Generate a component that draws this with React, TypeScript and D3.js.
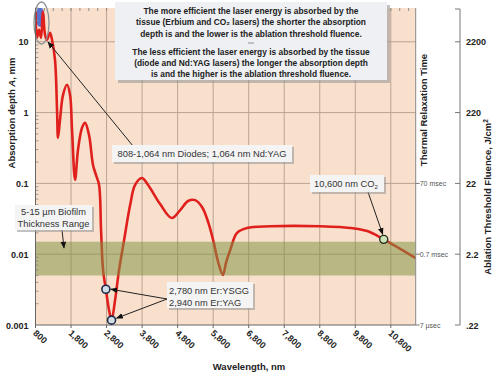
import React from 'react';
import * as d3 from 'd3';

const wavelengths = [800, 842, 899, 955, 1011, 1068, 1124, 1208, 1265, 1349, 1406, 1434, 1490, 1575, 1687, 1772, 1828, 1913, 1997, 2110, 2194, 2307, 2420, 2504, 2589, 2645, 2701, 2780, 2870, 2940, 3039, 3152, 3293, 3462, 3603, 3792, 3969, 4307, 4637, 4873, 5096, 5293, 5490, 5659, 5800, 5941, 6073, 6166, 6279, 6468, 6749, 7404, 8815, 9744, 10138, 10600, 11500];
const depths = [26.6, 11.4, 14.8, 11.4, 26.6, 12.6, 10.7, 13.4, 10.7, 5.56, 1.09, 0.44, 0.79, 1.78, 2.47, 1.78, 0.57, 0.112, 0.30, 0.61, 0.715, 0.48, 0.18, 0.131, 0.095, 0.0219, 0.0060, 0.0032, 0.00162, 0.00117, 0.00224, 0.0060, 0.0158, 0.049, 0.095, 0.119, 0.095, 0.051, 0.0324, 0.042, 0.0564, 0.058, 0.046, 0.0284, 0.0158, 0.0077, 0.0051, 0.0077, 0.0114, 0.0199, 0.0234, 0.0248, 0.0248, 0.0232, 0.0212, 0.0162, 0.0088];

const xTicks = [800, 1800, 2800, 3800, 4800, 5800, 6800, 7800, 8800, 9800, 10800];
const xTickLabels = ['800', '1,800', '2,800', '3,800', '4,800', '5,800', '6,800', '7,800', '8,800', '9,800', '10,800'];
const yTicks = [0.001, 0.01, 0.1, 1, 10];
const yTickLabels = ['0.001', '0.01', '0.1', '1', '10'];
const thermalTicks = [0.001, 0.01, 0.1];
const thermalLabels = ['7 µsec', '0.7 msec', '70 msec'];
const fluenceTicks = [0.001, 0.01, 0.1, 1, 10];
const fluenceLabels = ['.22', '2.2', '22', '220', '2200'];

const erbiumWl = [2780, 2940];
const erbiumDepth = [0.0032, 0.00117];
const co2Wl = [10600];
const co2Depth = [0.0162];
const biofilmRange = [0.005, 0.015];

const topLines1 = [
  'The more efficient the laser energy is absorbed by the',
  'tissue (Erbium and CO\u2082 lasers) the shorter the absorption',
  'depth is and the lower is the ablation threshold fluence.',
];
const topLines2 = [
  'The less efficient the laser energy is absorbed by the tissue',
  '(diode and Nd:YAG lasers) the longer the absorption depth',
  'is and the higher is the ablation threshold fluence.',
];

const W = 498, H = 377;
const L = 35.5, R = 415.7, T = 8, B = 325;

export default function App() {
  const x = d3.scaleLinear().domain([800, 11500]).range([L, R]);
  const y = d3.scaleLog().domain([0.001, 30]).range([B, T]);
  const line = d3.line<number>()
    .x((_, i) => x(wavelengths[i]))
    .y((d) => y(d))
    .curve(d3.curveCatmullRom.alpha(0.5));
  const pathD = line(depths) || '';

  const minor: number[] = [];
  for (let e = -3; e <= 1; e++) {
    for (let k = 2; k <= 9; k++) {
      const v = k * Math.pow(10, e);
      if (v <= 30) minor.push(v);
    }
  }
  const topMinor = d3.range(1050, 11500, 250);

  const font = 'Liberation Sans, Arial, sans-serif';
  const gridC = '#b9a494';

  return (
    <svg width={W} height={H} style={{ position: 'absolute', left: 0, top: 0, background: '#fff' }} fontFamily={font}>
      <defs>
        <clipPath id="plot"><rect x={L} y={T} width={R - L} height={B - T} /></clipPath>
        <marker id="ah" viewBox="0 0 10 10" refX="9" refY="5" markerWidth="7" markerHeight="7" orient="auto-start-reverse" markerUnits="userSpaceOnUse">
          <path d="M0,1 L10,5 L0,9 Z" fill="#111" />
        </marker>
      </defs>
      <rect x={L} y={T} width={R - L} height={B - T} fill="#f9e0cd" />
      {xTicks.slice(1).map((t) => (
        <line key={'gx' + t} x1={x(t)} x2={x(t)} y1={T} y2={B} stroke={gridC} strokeWidth={1} />
      ))}
      {yTicks.slice(1).map((t) => (
        <line key={'gy' + t} x1={L} x2={R} y1={y(t)} y2={y(t)} stroke={gridC} strokeWidth={1} />
      ))}
      <g clipPath="url(#plot)">
        <ellipse cx={40} cy={17} rx={4.5} ry={10} fill="#3a5fcf" opacity={0.85} />
        <path d={pathD} fill="none" stroke="#e0201c" strokeWidth={2.6} strokeLinejoin="round" />
        <rect x={L} y={y(biofilmRange[1])} width={R - L} height={y(biofilmRange[0]) - y(biofilmRange[1])} fill="#7f9142" opacity={0.52} />
      </g>
      <ellipse cx={41.5} cy={23} rx={7.5} ry={21} fill="none" stroke="#8c9196" strokeWidth={1.3} />
      {topMinor.map((t) => (
        <line key={'tm' + t} x1={x(t)} x2={x(t)} y1={T} y2={T + 3} stroke="#777" strokeWidth={0.8} />
      ))}
      {minor.map((v) => (
        <line key={'lm' + v} x1={L} x2={L + 3} y1={y(v)} y2={y(v)} stroke="#888" strokeWidth={0.8} />
      ))}
      <line x1={L} x2={L} y1={T} y2={B} stroke="#666" strokeWidth={1} />
      <line x1={L} x2={R} y1={B} y2={B} stroke="#666" strokeWidth={1} />
      <line x1={R} x2={R} y1={T} y2={B} stroke="#888" strokeWidth={1} />
      {xTicks.map((t) => (
        <line key={'xt' + t} x1={x(t)} x2={x(t)} y1={B} y2={B + 3} stroke="#666" />
      ))}
      {xTicks.map((t, i) => (
        <text key={'xl' + t} transform={`translate(${x(t) - 3},${B + 9}) rotate(42)`} fontSize={9} fontWeight="bold" fill="#222">{xTickLabels[i]}</text>
      ))}
      {yTicks.map((t, i) => (
        <text key={'yl' + t} x={L - 7} y={y(t) + 3.5} textAnchor="end" fontSize={9} fontWeight="bold" fill="#222">{yTickLabels[i]}</text>
      ))}
      {thermalTicks.map((t, i) => (
        <g key={'th' + t}>
          <line x1={R} x2={R + 4} y1={y(t)} y2={y(t)} stroke="#777" />
          <text x={R + 4} y={y(t) + 2.5} fontSize={7} fill="#555">{thermalLabels[i]}</text>
        </g>
      ))}
      <text transform={`translate(427,110) rotate(-90)`} textAnchor="middle" fontSize={9.5} fontWeight="bold" fill="#222">Thermal Relaxation Time</text>
      <line x1={460} x2={460} y1={9} y2={B} stroke="#777" strokeWidth={1} />
      <line x1={455} x2={460} y1={9} y2={9} stroke="#777" />
      {fluenceTicks.map((t, i) => (
        <g key={'fl' + t}>
          <line x1={455} x2={460} y1={y(t)} y2={y(t)} stroke="#777" />
          <text x={466} y={y(t) + 3.5} fontSize={9} fontWeight="bold" fill="#222">{fluenceLabels[i]}</text>
        </g>
      ))}
      <text transform={`translate(491,197) rotate(-90)`} textAnchor="middle" fontSize={9.5} fontWeight="bold" fill="#222">
        Ablation Threshold Fluence, J/cm<tspan dy={-3} fontSize={6.5}>2</tspan>
      </text>
      <text x={249} y={370} textAnchor="middle" fontSize={9.5} fontWeight="bold" fill="#222">Wavelength, nm</text>
      <text transform={`translate(15,113) rotate(-90)`} textAnchor="middle" fontSize={9.5} fontWeight="bold" fill="#222">
        Absorption depth <tspan fontStyle="italic">A</tspan>, mm
      </text>
      {erbiumWl.map((w, i) => (
        <circle key={'er' + w} cx={x(w)} cy={y(erbiumDepth[i])} r={4} fill="#d3dde6" stroke="#1d2a48" strokeWidth={1.6} />
      ))}
      {co2Wl.map((w, i) => (
        <circle key={'co' + w} cx={x(w)} cy={y(co2Depth[i])} r={4} fill="#cfe3b8" stroke="#26331f" strokeWidth={1.4} />
      ))}
      <line x1={133} y1={146} x2={48} y2={42} stroke="#222" strokeWidth={1} markerEnd="url(#ah)" />
      <line x1={368} y1={192} x2={x(co2Wl[0]) - 1} y2={y(co2Depth[0]) - 5} stroke="#222" strokeWidth={1} markerEnd="url(#ah)" />
      <line x1={62} y1={230} x2={64} y2={248} stroke="#222" strokeWidth={1} markerEnd="url(#ah)" />
      <line x1={167} y1={299} x2={x(erbiumWl[0]) + 5} y2={y(erbiumDepth[0])} stroke="#222" strokeWidth={1} markerEnd="url(#ah)" />
      <line x1={167} y1={299} x2={x(erbiumWl[1]) + 5} y2={y(erbiumDepth[1]) - 2} stroke="#222" strokeWidth={1} markerEnd="url(#ah)" />
      <rect x={118} y={5} width={272} height={78} fill="#9a9a9a" opacity={0.6} />
      <rect x={115} y={2} width={272} height={78} fill="#eef0f3" />
      {topLines1.map((s, i) => (
        <text key={'t1' + i} x={251} y={13.5 + i * 11.5} textAnchor="middle" fontSize={8.4} fontWeight="bold" fill="#222">{s}</text>
      ))}
      <line x1={248} x2={254} y1={43} y2={43} stroke="#777" strokeWidth={0.8} />
      {topLines2.map((s, i) => (
        <text key={'t2' + i} x={251} y={55 + i * 11} textAnchor="middle" fontSize={8.4} fontWeight="bold" fill="#222">{s}</text>
      ))}
      <rect x={114} y={147} width={180} height={17} fill="#9a9a9a" opacity={0.6} />
      <rect x={112} y={145} width={180} height={17} fill="#f4f4f4" />
      <text x={202} y={157} textAnchor="middle" fontSize={9.3} fill="#333">808-1,064 nm Diodes; 1,064 nm Nd:YAG</text>
      <rect x={312} y={177} width={74} height={17} fill="#9a9a9a" opacity={0.6} />
      <rect x={310} y={175} width={74} height={17} fill="#f4f4f4" />
      <text x={346} y={187} textAnchor="middle" fontSize={9.3} fill="#333">10,600 nm CO<tspan dy={2} fontSize={6}>2</tspan></text>
      <rect x={17} y={207} width={77} height={25} fill="#9a9a9a" opacity={0.6} />
      <rect x={15} y={205} width={77} height={25} fill="#f4f4f4" />
      <text x={53.5} y={215} textAnchor="middle" fontSize={9.3} fill="#333">5-15 µm Biofilm</text>
      <text x={53.5} y={227} textAnchor="middle" fontSize={9.3} fill="#333">Thickness Range</text>
      <rect x={169} y={284} width={86} height={26} fill="#9a9a9a" opacity={0.6} />
      <rect x={167} y={282} width={86} height={26} fill="#f4f4f4" />
      <text x={169} y={293.5} fontSize={9.3} fill="#333">2,780 nm Er:YSGG</text>
      <text x={169} y={305.5} fontSize={9.3} fill="#333">2,940 nm Er:YAG</text>
    </svg>
  );
}
